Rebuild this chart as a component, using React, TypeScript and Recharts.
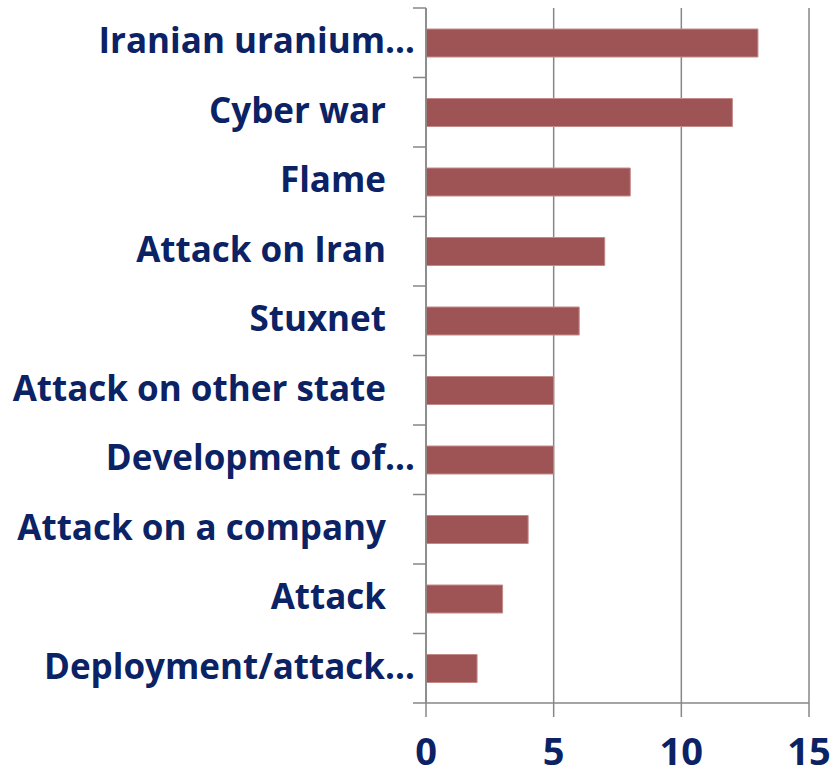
import React from 'react';
import { BarChart, Bar, XAxis, YAxis, CartesianGrid } from 'recharts';

// categories, top to bottom
const categories = [
  'Iranian uranium…',
  'Cyber war',
  'Flame',
  'Attack on Iran',
  'Stuxnet',
  'Attack on other state',
  'Development of…',
  'Attack on a company',
  'Attack',
  'Deployment/attack…',
];
const counts = [13, 12, 8, 7, 6, 5, 5, 4, 3, 2];
const xTicks = [0, 5, 10, 15];

const data = categories.map((name, i) => ({ name, value: counts[i] }));

const NAVY = '#0B2265';
const GRID = '#878787';
const FONT = '"Open Sans", Lato, sans-serif';

const W = 834;
const H = 775;
const M = { top: 8, right: 25, bottom: 0, left: 0 };
const X_AXIS_H = 72;
const AXIS_W = 426;
const band = (H - M.top - M.bottom - X_AXIS_H) / categories.length;

const CategoryTick = (props: any) => {
  const { y, payload, index } = props;
  const label: string = payload.value;
  const ax = AXIS_W;
  // Excel leaves room for a trailing space on labels that were not cut
  const end = label.endsWith('…') ? ax - 11 : ax - 40;
  return (
    <g>
      <line x1={ax - 13} x2={ax} y1={y - band / 2} y2={y - band / 2} stroke={GRID} strokeWidth={1.5} />
      {index === categories.length - 1 && (
        <line x1={ax - 13} x2={ax} y1={y + band / 2} y2={y + band / 2} stroke={GRID} strokeWidth={1.5} />
      )}
      <text
        x={end}
        y={y}
        dy="0.3em"
        textAnchor="end"
        fill={NAVY}
        fontSize={35}
        fontWeight={700}
        fontFamily={FONT}
      >
        {label}
      </text>
    </g>
  );
};

const App: React.FC = () => {
  return (
    <div style={{ position: 'absolute', left: 0, top: 0, width: W, height: H, background: '#fff' }}>
      <BarChart width={W} height={H} data={data} layout="vertical" margin={M}>
        <CartesianGrid horizontal={false} stroke={GRID} strokeWidth={1.5} />
        <XAxis
          type="number"
          domain={[0, 15]}
          ticks={xTicks}
          interval={0}
          height={X_AXIS_H}
          axisLine={{ stroke: GRID, strokeWidth: 1.5 }}
          tickLine={{ stroke: GRID, strokeWidth: 1.5 }}
          tickSize={14}
          tickMargin={21}
          tick={{ fill: NAVY, fontSize: 38, fontWeight: 700, fontFamily: FONT }}
        />
        <YAxis
          type="category"
          dataKey="name"
          width={AXIS_W}
          interval={0}
          axisLine={{ stroke: GRID, strokeWidth: 1.5 }}
          tickLine={false}
          tick={<CategoryTick />}
        />
        <Bar
          dataKey="value"
          fill="#9E5454"
          stroke="#C48A8A"
          strokeWidth={1}
          barSize={28}
          isAnimationActive={false}
        />
      </BarChart>
    </div>
  );
};

export default App;
